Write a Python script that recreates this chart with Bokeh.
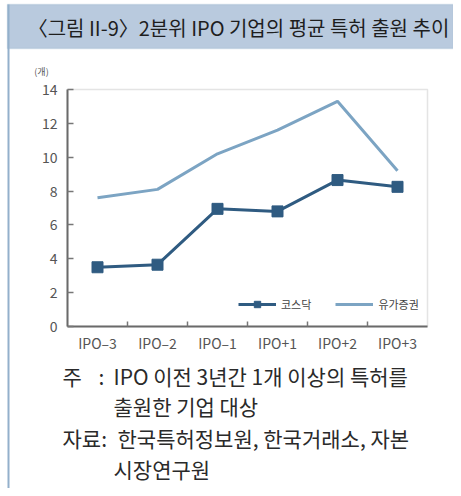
from bokeh.plotting import figure
from bokeh.models import (Range1d, FixedTicker, Label, BoxAnnotation, Legend, LegendItem)
from bokeh.embed import file_html
from bokeh.resources import INLINE

# ---- data ----
categories = ["IPO–3", "IPO–2", "IPO–1", "IPO+1", "IPO+2", "IPO+3"]
kosdaq = [3.5, 3.65, 6.95, 6.8, 8.65, 8.25]
yuga = [7.6, 8.1, 10.2, 11.6, 13.3, 9.2]
y_ticks = [0, 2, 4, 6, 8, 10, 12, 14]
series_names = ["코스닥", "유가증권"]
title_text = "〈그림 II-9〉2분위 IPO 기업의 평균 특허 출원 추이"
unit_text = "(개)"

# ---- layout (canvas pixel geometry) ----
W, H = 453, 488
FL, FR, FT, FB = 67, 427, 89, 326        # plot box edges in canvas px
YMAX = 14.0
XU = (FR - FL) / len(categories)          # px per x unit
YU = (FB - FT) / YMAX                     # px per y unit

def dx(xp):
    return (xp - FL) / XU

def dy(yp):
    return (FB - yp) / YU

KR = "Noto Sans CJK KR"

p = figure(width=W, height=H, output_backend="svg", toolbar_location=None,
           x_range=Range1d(dx(0), dx(W)), y_range=Range1d(dy(H), dy(0)),
           min_border=0)
p.background_fill_color = "white"
p.border_fill_color = "white"
p.grid.visible = False
p.outline_line_color = None

xc = [i + 0.5 for i in range(len(categories))]

# x axis: labels at centers, ticks at category boundaries
p.xaxis.fixed_location = 0
p.xaxis.bounds = (0, len(categories))
p.xaxis.ticker = FixedTicker(ticks=xc, minor_ticks=list(range(1, len(categories))))
p.xaxis.major_label_overrides = {c: lab for c, lab in zip(xc, categories)}
p.xaxis.major_tick_in = 0
p.xaxis.major_tick_out = 0
p.xaxis.minor_tick_in = 5
p.xaxis.minor_tick_out = 0
p.xaxis.minor_tick_line_color = "#777777"
p.xaxis.minor_tick_line_width = 1.5
p.xaxis.major_label_standoff = 6

p.yaxis.fixed_location = 0
p.yaxis.bounds = (0, YMAX)
p.yaxis.ticker = FixedTicker(ticks=y_ticks)
p.yaxis.major_tick_in = 6
p.yaxis.major_tick_out = 0
p.yaxis.minor_tick_line_color = None
p.yaxis.major_tick_line_color = "#777777"
p.yaxis.major_tick_line_width = 1.5
p.yaxis.major_label_standoff = 10

for ax in (p.xaxis, p.yaxis):
    ax.axis_line_color = "#6a6a6a"
    ax.axis_line_width = 2
    ax.major_label_text_font = KR
    ax.major_label_text_font_size = "14px"
    ax.major_label_text_color = "#555555"

# plot box (top / right edges lighter)
box = BoxAnnotation(left=0, right=len(categories), bottom=0, top=YMAX,
                    fill_alpha=0, line_color="#a6a6a6", line_width=1.5,
                    level="underlay")
p.add_layout(box)

# ---- series ----
c_k = "#2f5b81"
c_y = "#7ca4c3"
ly = p.line(xc, yuga, line_color=c_y, line_width=3)
lk = p.line(xc, kosdaq, line_color=c_k, line_width=3)
sk = p.scatter(xc, kosdaq, marker="square", size=11, fill_color=c_k, line_color=c_k)

legend = Legend(items=[LegendItem(label=series_names[0], renderers=[lk, sk]),
                       LegendItem(label=series_names[1], renderers=[ly])],
                orientation="horizontal", location=(238, H - 312),
                glyph_width=38, glyph_height=16, label_height=16,
                label_standoff=5, spacing=24, padding=0, margin=0,
                border_line_alpha=0, background_fill_alpha=0,
                label_text_font=KR, label_text_font_size="11px",
                label_text_color="#444444")
p.add_layout(legend, "center")

# ---- decorations: title band and panel borders ----
band = BoxAnnotation(left=dx(7), right=dx(W), top=dy(4), bottom=dy(48),
                     fill_color="#b9cade", fill_alpha=1.0,
                     line_color="#93b0cb", line_width=1.5, level="underlay")
p.add_layout(band)
lborder = BoxAnnotation(left=dx(7), right=dx(9), top=dy(4), bottom=dy(H),
                        fill_color="#93b0cb", fill_alpha=1.0, line_color=None,
                        level="underlay")
p.add_layout(lborder)

def lab(text, xp, yp, size, color="#222222", align="left", font=KR):
    p.add_layout(Label(x=dx(xp), y=dy(yp), text=text, text_font=font,
                       text_font_size=size, text_color=color,
                       text_align=align, text_baseline="middle"))

lab(title_text, 238, 27, "20px", "#1e1e1e", align="center")
lab(unit_text, 41, 71, "9px", "#555555", align="center")

note_size = "21px"
note_col = "#2a2a2a"
lab("주", 62, 375, note_size, note_col)
lab(":", 98, 375, note_size, note_col)
lab("IPO 이전 3년간 1개 이상의 특허를", 113, 375, note_size, note_col)
lab("출원한 기업 대상", 113, 405, note_size, note_col)
lab("자료:", 62, 437, note_size, note_col)
lab("한국특허정보원, 한국거래소, 자본", 117, 437, note_size, note_col)
lab("시장연구원", 113, 468, note_size, note_col)

open("out.html", "w").write(file_html(p, INLINE))
